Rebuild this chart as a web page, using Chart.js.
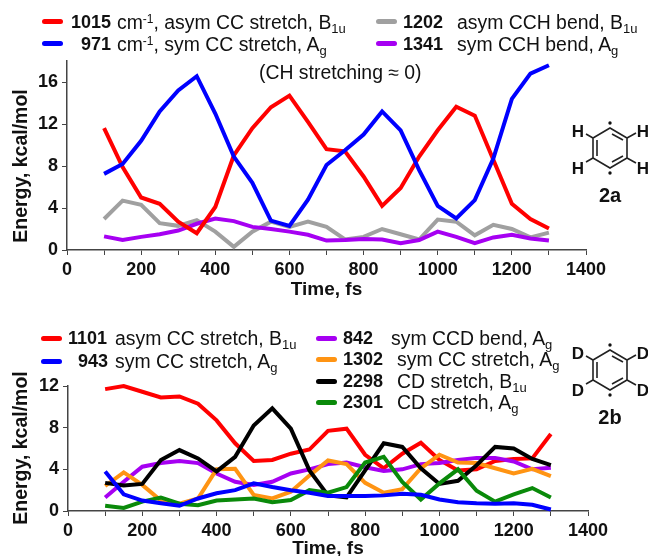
<!DOCTYPE html>
<html>
<head>
<meta charset="utf-8">
<title>Energy vs time</title>
<script src="https://cdn.jsdelivr.net/npm/chart.js@4/dist/chart.umd.min.js"></script>
<style>
html, body { margin: 0; padding: 0; background: #fff; }
#page { position: relative; width: 648px; height: 556px; overflow: hidden; font-family: "Liberation Sans", Arial, sans-serif; color: #111; }
canvas { position: absolute; left: 0; }
.t { position: absolute; font-size: 19.4px; line-height: 20px; white-space: nowrap; }
.t.n { font-size: 18px; font-weight: bold; }
.t sub { font-size: 13px; line-height: 0; vertical-align: -4px; }
.t sup { font-size: 12px; line-height: 0; vertical-align: 6px; }
.sw { position: absolute; height: 5px; border-radius: 3px; }
.ylab { position: absolute; font-size: 19.5px; font-weight: bold; line-height: 20px; white-space: nowrap; transform: translate(-50%, -50%) rotate(-90deg); }
svg { position: absolute; left: 0; top: 0; }
</style>
</head>
<body>
<div id="page">
  <canvas id="chartA" width="648" height="301" style="top:0"></canvas>
  <canvas id="chartB" width="648" height="260" style="top:300px"></canvas>
  <svg id="mol" width="648" height="556"></svg>
  <div class="ylab" style="left:20px;top:166px">Energy, kcal/mol</div>
  <div class="ylab" style="left:20px;top:448px">Energy, kcal/mol</div>
  <div id="legend"></div>
</div>
<script>
const times = [100, 150, 200, 250, 300, 350, 400, 450, 500, 550, 600, 650, 700, 750, 800, 850, 900, 950, 1000, 1050, 1100, 1150, 1200, 1250, 1300];

// 2a
const a1015 = [11.6, 7.9, 5.0, 4.4, 2.7, 1.6, 4.1, 9.0, 11.6, 13.6, 14.7, 12.2, 9.6, 9.4, 7.0, 4.2, 5.9, 8.9, 11.4, 13.65, 12.8, 8.6, 4.4, 2.95, 2.05];
const a971 = [7.25, 8.2, 10.4, 13.2, 15.2, 16.55, 13.0, 8.9, 6.4, 2.8, 2.3, 4.8, 8.1, 9.5, 11.0, 13.2, 11.4, 7.6, 4.2, 3.0, 4.75, 8.7, 14.4, 16.8, 17.6];
const a1202 = [2.95, 4.7, 4.3, 2.55, 2.3, 2.85, 1.75, 0.3, 1.75, 2.7, 2.2, 2.7, 2.2, 1.0, 1.25, 2.0, 1.5, 1.0, 2.9, 2.7, 1.4, 2.4, 2.0, 1.2, 1.65];
const a1341 = [1.3, 0.95, 1.25, 1.5, 1.85, 2.5, 3.0, 2.75, 2.2, 2.0, 1.75, 1.45, 0.9, 0.95, 1.05, 1.0, 0.65, 0.95, 1.75, 1.25, 0.65, 1.2, 1.45, 1.1, 0.9];

// 2b
const b1101 = [11.7, 12.0, 11.45, 10.9, 11.0, 10.3, 8.7, 6.5, 4.8, 4.9, 5.5, 5.9, 7.7, 7.9, 5.4, 4.1, 5.5, 6.55, 4.9, 3.9, 4.0, 4.8, 5.0, 5.05, 7.4];
const b943 = [3.8, 1.6, 1.0, 0.75, 0.5, 1.2, 1.7, 2.0, 2.65, 2.3, 2.0, 1.75, 1.45, 1.45, 1.45, 1.5, 1.65, 1.55, 1.1, 0.85, 0.75, 0.7, 0.75, 0.6, 0.15];
const b842 = [1.3, 2.8, 4.25, 4.6, 4.8, 4.6, 3.6, 2.8, 2.5, 2.8, 3.6, 4.0, 4.5, 4.65, 4.2, 3.85, 4.0, 4.5, 4.6, 4.9, 5.1, 5.1, 4.75, 4.0, 4.15];
const b1302 = [2.4, 3.7, 2.5, 1.0, 0.7, 1.2, 4.0, 4.05, 1.55, 1.2, 1.85, 3.4, 4.85, 4.5, 2.7, 1.75, 2.1, 4.1, 5.4, 4.65, 4.6, 4.1, 3.6, 4.05, 3.35];
const b2298 = [2.7, 2.45, 2.6, 4.9, 5.85, 5.05, 3.8, 5.2, 8.2, 9.85, 7.9, 3.9, 1.5, 1.3, 3.9, 6.5, 6.15, 4.1, 2.6, 2.9, 4.4, 6.15, 6.0, 5.0, 4.4];
const b2301 = [0.5, 0.3, 0.9, 1.3, 0.7, 0.55, 1.0, 1.1, 1.2, 0.85, 1.05, 2.0, 1.75, 2.3, 4.65, 5.2, 2.8, 1.1, 2.65, 4.0, 1.95, 0.9, 1.6, 2.2, 1.3];

const RED = "#ff0000", BLUE = "#0000ff", GRAY = "#a0a0a0", PURPLE = "#a600f2", ORANGE = "#ff9413", BLACK = "#000000", GREEN = "#0a8a0a";
const AXIS = "#444444";
const FONT = "'Liberation Sans', Arial, sans-serif";

function series(values, color) {
    return {
        data: values.map((v, i) => ({ x: times[i], y: v })),
        borderColor: color,
        borderWidth: 4,
        pointRadius: 0,
        tension: 0,
        fill: false,
        clip: false,
        borderJoinStyle: "miter",
        borderCapStyle: "butt",
    };
}

function makeChart(id, datasets, opts) {
    return new Chart(document.getElementById(id), {
        type: "line",
        data: { datasets },
        options: {
            responsive: false,
            animation: false,
            events: [],
            layout: { padding: { top: opts.top, right: opts.right, left: 0, bottom: 0 } },
            plugins: { legend: { display: false }, tooltip: { enabled: false } },
            scales: {
                x: {
                    type: "linear",
                    min: 0,
                    max: 1400,
                    border: { color: AXIS, width: 1.5 },
                    grid: { drawOnChartArea: false, color: AXIS, tickLength: 5 },
                    ticks: {
                        stepSize: 100,
                        autoSkip: false,
                        maxRotation: 0,
                        padding: 4,
                        color: "#111",
                        font: { family: FONT, size: 18, weight: "bold" },
                        callback: (v) => (v % 200 === 0 ? String(v) : ""),
                    },
                    title: {
                        display: true,
                        text: "Time, fs",
                        color: "#111",
                        font: { family: FONT, size: 19, weight: "bold" },
                        padding: 0,
                    },
                    afterFit: (s) => { s.height = opts.xHeight; },
                },
                y: {
                    min: 0,
                    max: opts.yMax,
                    border: { color: AXIS, width: 1.5 },
                    grid: { drawOnChartArea: false, color: AXIS, tickLength: 5 },
                    ticks: {
                        stepSize: 4,
                        padding: 4,
                        color: "#111",
                        font: { family: FONT, size: 18, weight: "bold" },
                    },
                    afterBuildTicks: (s) => { s.ticks = s.ticks.filter((t) => t.value % 4 === 0); },
                    afterFit: (s) => { s.width = opts.left; },
                },
            },
        },
    });
}

makeChart("chartA", [series(a971, BLUE), series(a1015, RED), series(a1341, PURPLE), series(a1202, GRAY)],
    { top: 61, right: 62, left: 67, xHeight: 51, yMax: 18 });
makeChart("chartB", [series(b943, BLUE), series(b2301, GREEN), series(b2298, BLACK), series(b1302, ORANGE), series(b842, PURPLE), series(b1101, RED)],
    { top: 86, right: 60, left: 68, xHeight: 49, yMax: 12 });

// legend text: [swatch x, swatch y, colour, bold x, bold text, rest x, rest html]
const legendRows = [
    [42, 21, RED, 71, "1015", 117, 'cm<sup>-1</sup>, asym CC stretch, B<sub>1u</sub>'],
    [42, 43, BLUE, 81, "971", 117, 'cm<sup>-1</sup>, sym CC stretch, A<sub>g</sub>'],
    [376, 21, GRAY, 403, "1202", 457, 'asym CCH bend, B<sub>1u</sub>'],
    [376, 43, PURPLE, 403, "1341", 457, 'sym CCH bend, A<sub>g</sub>'],
    [41, 338, RED, 68, "1101", 115, 'asym CC stretch, B<sub>1u</sub>'],
    [41, 361, BLUE, 78, "943", 115, 'sym CC stretch, A<sub>g</sub>'],
    [316, 338, PURPLE, 343, "842", 391, 'sym CCD bend, A<sub>g</sub>'],
    [316, 359, ORANGE, 343, "1302", 397, 'sym CC stretch, A<sub>g</sub>'],
    [316, 381, BLACK, 343, "2298", 397, 'CD stretch, B<sub>1u</sub>'],
    [316, 402, GREEN, 343, "2301", 397, 'CD stretch, A<sub>g</sub>'],
];
const legend = document.getElementById("legend");
let html = "";
legendRows.forEach((r) => {
    const textTop = r[1] - (r[1] < 100 ? 9 : 10);
    html += `<div class="sw" style="left:${r[0]}px;top:${r[1] - 2.5}px;width:21px;background:${r[2]}"></div>`;
    html += `<div class="t n" style="left:${r[3]}px;top:${textTop}px">${r[4]}</div>`;
    html += `<div class="t" style="left:${r[5]}px;top:${textTop}px">${r[6]}</div>`;
});
html += `<div class="t" style="left:259px;top:62px">(CH stretching ≈ 0)</div>`;
legend.innerHTML = html;

// rings next to each chart
function molecule(cy, h, label, labelY) {
    const cx = 610, rx = 17, ry = 20, side = 10, dy = 18.5;
    const v = [[cx, cy - ry], [cx + rx, cy - side], [cx + rx, cy + side], [cx, cy + ry], [cx - rx, cy + side], [cx - rx, cy - side]];
    let s = '<g stroke="#222" stroke-width="1.6" fill="none">';
    s += '<path d="M' + v.map((p) => p.join(" ")).join("L") + 'Z"/>';
    s += `<path d="M${cx - 13} ${cy - 8}V${cy + 8}M${cx + 2} ${cy - ry + 6}L${cx + 13} ${cy - side + 2}M${cx + 2} ${cy + ry - 6}L${cx + 13} ${cy + side - 2}"/>`;
    s += `<path d="M${cx + rx} ${cy - side}l9 -5M${cx + rx} ${cy + side}l9 5M${cx - rx} ${cy - side}l-7 -4M${cx - rx} ${cy + side}l-7 4"/></g>`;
    s += `<circle cx="${cx}" cy="${cy - ry - 5}" r="1.7" fill="#111"/><circle cx="${cx}" cy="${cy + ry + 5}" r="1.7" fill="#111"/>`;
    [[578, cy + 1 - dy], [643, cy + 1 - dy], [578, cy + 1 + dy], [643, cy + 1 + dy]].forEach((p) => {
        s += `<text x="${p[0]}" y="${p[1] + 6}" text-anchor="middle" font-family="Liberation Sans" font-size="17" font-weight="bold" fill="#111">${h}</text>`;
    });
    s += `<text x="${cx}" y="${labelY + 7}" text-anchor="middle" font-family="Liberation Sans" font-size="20" font-weight="bold" fill="#111">${label}</text>`;
    return s;
}
document.getElementById("mol").innerHTML = molecule(148, "H", "2a", 195) + molecule(370, "D", "2b", 417);
</script>
</body>
</html>
